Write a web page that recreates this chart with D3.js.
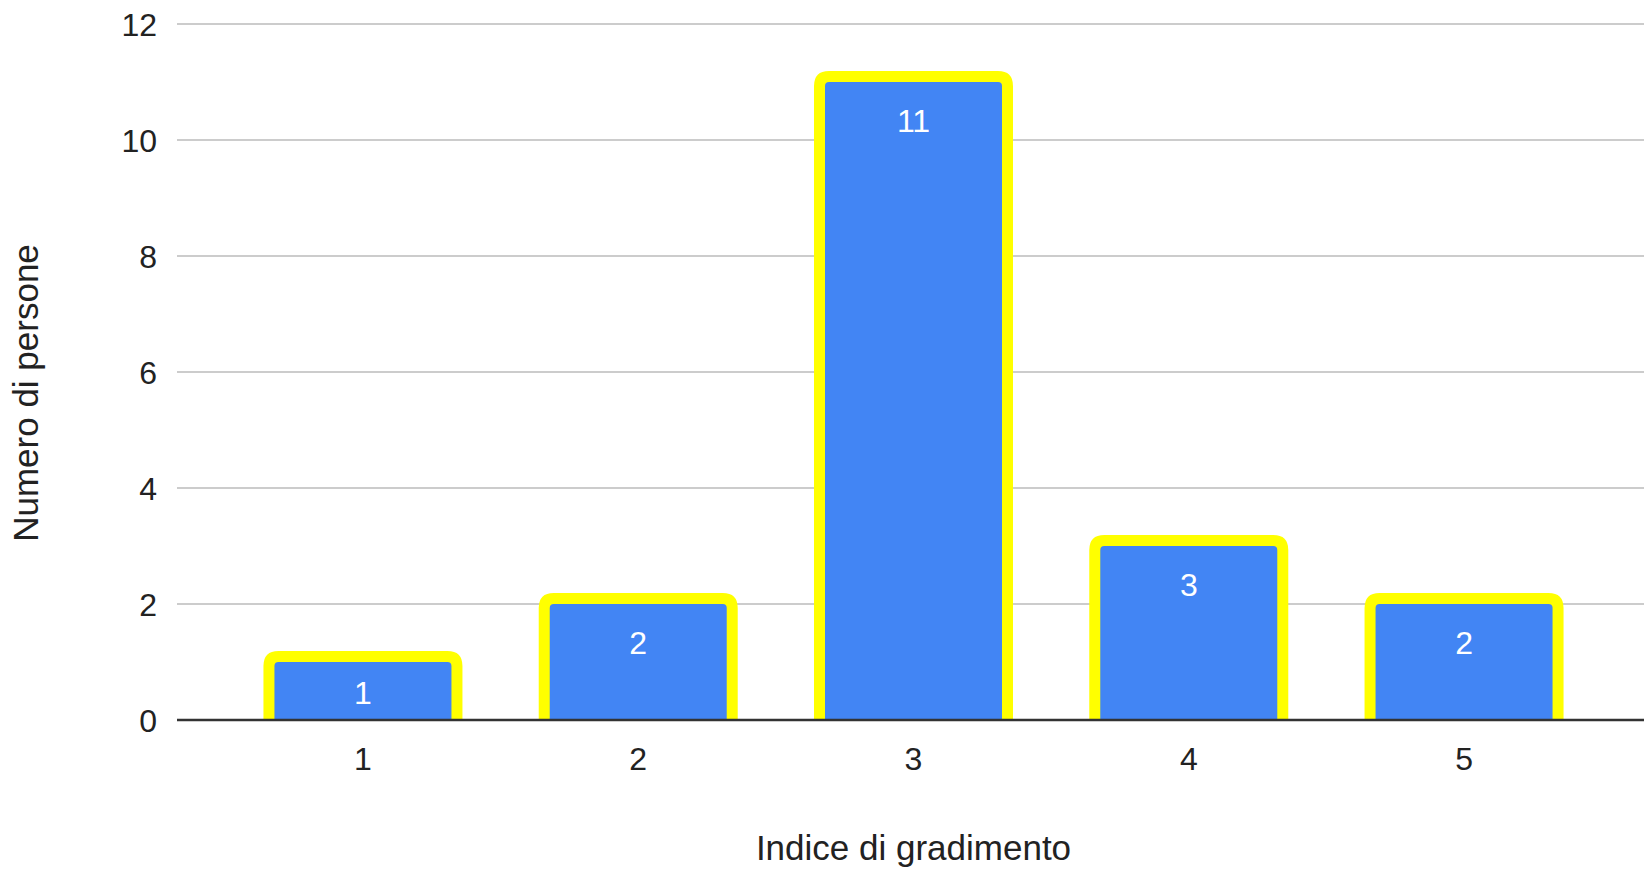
<!DOCTYPE html>
<html>
<head>
<meta charset="utf-8">
<script src="https://cdn.jsdelivr.net/npm/d3@7"></script>
<style>
html,body{margin:0;padding:0;background:#fff;}
svg{display:block;}
text{font-family:"Liberation Sans",Arial,sans-serif;}
</style>
</head>
<body>
<svg id="chart" width="1644" height="870"></svg>
<script>
const categories = ["1", "2", "3", "4", "5"];
const values = [1, 2, 11, 3, 2];
const yTicks = [0, 2, 4, 6, 8, 10, 12];
const xTitle = "Indice di gradimento";
const yTitle = "Numero di persone";

(function () {
const W = 1644, H = 870;
const mLeft = 177, mRight = 1650, mTop = 24, mBottom = 720;
const svg = d3.select("#chart");

const x = d3.scaleBand().domain(categories).range([mLeft, mRight]).paddingInner(0.357).paddingOuter(0.354);
const y = d3.scaleLinear().domain([0, 12]).range([mBottom, mTop]);

// gridlines
svg.append("g").selectAll("line").data(yTicks.filter(d => d !== 0)).join("line")
  .attr("x1", mLeft).attr("x2", W)
  .attr("y1", d => y(d)).attr("y2", d => y(d))
  .attr("stroke", "#cccccc").attr("stroke-width", 2);

// y tick labels
svg.append("g").selectAll("text").data(yTicks).join("text")
  .attr("x", 157).attr("y", d => y(d) + 12)
  .attr("text-anchor", "end").attr("font-size", 32).attr("fill", "#222")
  .text(d => d);

function topRounded(x0, x1, yt, yb, r) {
  return `M${x0},${yb} L${x0},${yt + r} Q${x0},${yt} ${x0 + r},${yt} L${x1 - r},${yt} Q${x1},${yt} ${x1},${yt + r} L${x1},${yb} Z`;
}

const s = 11;
const bars = svg.append("g");
categories.forEach((c, i) => {
  const v = values[i];
  const x0 = x(c), x1 = x(c) + x.bandwidth();
  bars.append("path").attr("d", topRounded(x0 - s, x1 + s, y(v) - s, y(0), 15)).attr("fill", "#ffff00");
  bars.append("path").attr("d", topRounded(x0, x1, y(v), y(0), 4)).attr("fill", "#4285f4");
  const base = Math.min(y(v) + 50, (y(v) + y(0)) / 2 + 13);
  bars.append("text").attr("x", (x0 + x1) / 2).attr("y", base)
    .attr("text-anchor", "middle").attr("font-size", 32).attr("fill", "#ffffff")
    .text(v);
});

// baseline axis
svg.append("line").attr("x1", mLeft).attr("x2", W).attr("y1", y(0)).attr("y2", y(0))
  .attr("stroke", "#333").attr("stroke-width", 2.5);

// x tick labels
svg.append("g").selectAll("text").data(categories).join("text")
  .attr("x", d => x(d) + x.bandwidth() / 2).attr("y", y(0) + 50)
  .attr("text-anchor", "middle").attr("font-size", 32).attr("fill", "#222")
  .text(d => d);

// axis titles
svg.append("text").attr("x", (mLeft + mRight) / 2).attr("y", 860)
  .attr("text-anchor", "middle").attr("font-size", 35).attr("fill", "#222").text(xTitle);
svg.append("text").attr("transform", `translate(38,393) rotate(-90)`)
  .attr("text-anchor", "middle").attr("font-size", 35).attr("fill", "#222").text(yTitle);
})();
</script>
</body>
</html>
